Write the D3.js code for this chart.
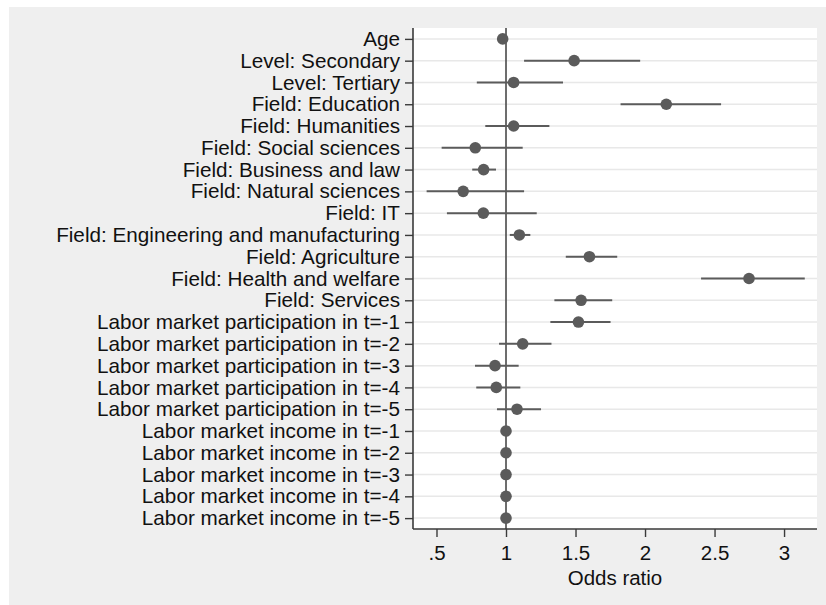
<!DOCTYPE html>
<html>
<head>
<meta charset="utf-8">
<script src="https://cdn.jsdelivr.net/npm/d3@7"></script>
<style>
  html, body { margin: 0; padding: 0; background: #ffffff; }
  svg { display: block; font-family: "Liberation Sans", Arial, sans-serif; }
</style>
</head>
<body>
<svg id="chart" width="826" height="605"></svg>
<script>
// Coefficient labels, top to bottom
const labels = [
  "Age",
  "Level: Secondary",
  "Level: Tertiary",
  "Field: Education",
  "Field: Humanities",
  "Field: Social sciences",
  "Field: Business and law",
  "Field: Natural sciences",
  "Field: IT",
  "Field: Engineering and manufacturing",
  "Field: Agriculture",
  "Field: Health and welfare",
  "Field: Services",
  "Labor market participation in t=-1",
  "Labor market participation in t=-2",
  "Labor market participation in t=-3",
  "Labor market participation in t=-4",
  "Labor market participation in t=-5",
  "Labor market income in t=-1",
  "Labor market income in t=-2",
  "Labor market income in t=-3",
  "Labor market income in t=-4",
  "Labor market income in t=-5"
];

// Odds ratio point estimates
const oddsRatio = [0.976, 1.49, 1.055, 2.153, 1.055, 0.779, 0.839, 0.692, 0.837, 1.096,
                   1.60, 2.748, 1.54, 1.521, 1.12, 0.921, 0.93, 1.079,
                   1.0, 1.0, 1.0, 1.0, 1.0];

// 95% confidence interval bounds
const ciLower = [0.972, 1.13, 0.79, 1.824, 0.851, 0.537, 0.757, 0.429, 0.575, 1.027,
                 1.43, 2.403, 1.348, 1.319, 0.95, 0.777, 0.786, 0.935,
                 0.999, 0.999, 0.999, 0.999, 0.999];
const ciUpper = [0.980, 1.965, 1.41, 2.547, 1.312, 1.12, 0.928, 1.13, 1.221, 1.175,
                 1.80, 3.149, 1.764, 1.752, 1.327, 1.091, 1.103, 1.252,
                 1.001, 1.001, 1.001, 1.001, 1.001];

// X axis ticks
const xTickValues = [0.5, 1, 1.5, 2, 2.5, 3];
const xTickLabels = [".5", "1", "1.5", "2", "2.5", "3"];
const xTitle = "Odds ratio";

const rows = labels.map((label, i) => ({
  label, or: oddsRatio[i], lo: ciLower[i], hi: ciUpper[i]
}));

const svg = d3.select("#chart");
const W = 826, H = 605;
const plot = { left: 413, right: 817, top: 28, bottom: 529 };
const labelSize = 20.7;
const tickSize = 20.5;
const ink = "#5b5b5b";

// Grey graph region
svg.append("rect").attr("x", 9).attr("y", 7)
  .attr("width", W - 9).attr("height", H - 7).attr("fill", "#efefef");
// White plot region
svg.append("rect").attr("x", plot.left).attr("y", plot.top)
  .attr("width", plot.right - plot.left).attr("height", plot.bottom - plot.top)
  .attr("fill", "#ffffff");

const x = d3.scaleLinear().domain([0.331, 3.237]).range([plot.left, plot.right]);
const y = d3.scalePoint().domain(labels).range([plot.top, plot.bottom]).padding(0.5);

// Horizontal grid lines
svg.append("g").selectAll("line").data(labels).join("line")
  .attr("x1", plot.left).attr("x2", plot.right)
  .attr("y1", d => y(d)).attr("y2", d => y(d))
  .attr("stroke", "#e8e8e8").attr("stroke-width", 1.5);

// Reference line at odds ratio = 1
svg.append("line")
  .attr("x1", x(1)).attr("x2", x(1))
  .attr("y1", plot.top).attr("y2", plot.bottom)
  .attr("stroke", "#4a4a4a").attr("stroke-width", 1.6);

// Confidence intervals
svg.append("g").selectAll("line").data(rows).join("line")
  .attr("x1", d => x(d.lo)).attr("x2", d => x(d.hi))
  .attr("y1", d => y(d.label)).attr("y2", d => y(d.label))
  .attr("stroke", ink).attr("stroke-width", 2);

// Point estimates
svg.append("g").selectAll("circle").data(rows).join("circle")
  .attr("cx", d => x(d.or)).attr("cy", d => y(d.label))
  .attr("r", 5.8).attr("fill", ink);

// Axes
const axisColor = "#3a3a3a";
const yAxis = svg.append("g")
  .attr("transform", `translate(${plot.left},0)`)
  .call(d3.axisLeft(y).tickSize(8).tickPadding(5).tickSizeOuter(0));
const xAxis = svg.append("g")
  .attr("transform", `translate(0,${plot.bottom})`)
  .call(d3.axisBottom(x).tickValues(xTickValues)
    .tickFormat((d, i) => xTickLabels[i]).tickSize(8).tickPadding(8).tickSizeOuter(0));

[yAxis, xAxis].forEach(g => {
  g.select(".domain").attr("stroke", axisColor).attr("stroke-width", 1.6);
  g.selectAll(".tick line").attr("stroke", axisColor).attr("stroke-width", 1.4);
  g.selectAll(".tick text").attr("fill", "#111111")
    .style("font-family", "'Liberation Sans', Arial, sans-serif");
});
yAxis.selectAll(".tick text").style("font-size", labelSize + "px");
xAxis.selectAll(".tick text").style("font-size", tickSize + "px");
yAxis.select(".domain").attr("d", `M0,${plot.top}V${plot.bottom}`);
xAxis.select(".domain").attr("d", `M${plot.left},0H${plot.right}`);

// X axis title
svg.append("text")
  .attr("x", (plot.left + plot.right) / 2).attr("y", 585)
  .attr("text-anchor", "middle")
  .attr("fill", "#111111")
  .style("font-size", tickSize + "px")
  .text(xTitle);
</script>
</body>
</html>
